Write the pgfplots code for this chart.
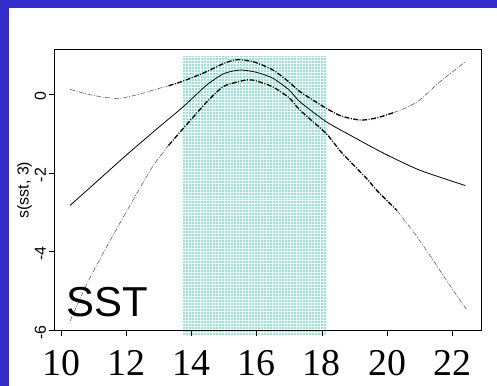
\documentclass[border=0pt]{standalone}
\usepackage{fontspec}
\setmainfont{Liberation Sans}
\newfontfamily\tnr{Liberation Serif}
\newfontfamily\arial{Liberation Sans}
\usepackage{pgfplots}
\pgfplotsset{compat=1.18}
\usetikzlibrary{patterns}
\definecolor{bgblue}{RGB}{51,45,201}
\definecolor{aqua}{RGB}{140,232,208}
\begin{document}
\begin{tikzpicture}
\fill[bgblue] (0,0) rectangle (497bp,386bp);
\fill[white] (9bp,0) rectangle (497bp,378bp);
\begin{axis}[
  at={(54.5bp,55.3bp)}, anchor=south west,
  scale only axis, width=427.2bp, height=281.2bp,
  xmin=9.8, xmax=22.9, ymin=-6, ymax=1.13,
  clip=false, axis on top=true,
  axis line style={line width=0.6pt, black},
  xtick={10,12,14,16,18,20,22},
  xticklabels={10,12,14,16,18,20,22},
  ytick={-6,-4,-2,0},
  yticklabels={-6,-4,-2,0},
  xtick pos=left, ytick pos=left,
  tick align=outside,
  major tick length=5bp,
  tick style={line width=0.8pt, black},
  /pgf/number format/assume math mode=true,
  xticklabel style={font=\tnr\fontsize{38}{38}\selectfont, anchor=north, inner sep=0pt, text height=25.8bp, text depth=0pt, yshift=-14bp},
  yticklabel style={font=\arial\fontsize{16}{16}\selectfont, rotate=90, anchor=south, xshift=-2bp},
  ylabel={s(sst, 3)},
  ylabel style={font=\arial\fontsize{16}{16}\selectfont, yshift=-4bp},
]
\addplot[draw=none, fill=aqua, postaction={pattern=grid, pattern color=white}]
  coordinates {(13.71,-6.13) (18.13,-6.13) (18.13,0.97) (13.71,0.97)} -- cycle;
% center fit
\addplot[black, line width=0.8pt, smooth, tension=0.4] coordinates {
(10.28,-2.82) (11.0,-2.29) (12.0,-1.55) (13.0,-0.84) (13.75,-0.32) (14.47,0.23)
(15.0,0.52) (15.5,0.61) (16.0,0.55) (16.5,0.40) (17.0,0.10)
(17.33,-0.2) (18.13,-0.7) (18.86,-1.04) (19.89,-1.5) (21.0,-1.93) (22.4,-2.32)};
% upper band
\addplot[black!70, line width=0.5pt, smooth, tension=0.4, dash pattern=on 5pt off 1.5pt on 1pt off 1.5pt] coordinates {
(10.28,0.12) (10.8,0.0) (11.3,-0.08) (11.8,-0.11) (12.42,0.0) (12.9,0.12) (13.3,0.21)};
\addplot[black, line width=1.3pt, smooth, tension=0.4, dash pattern=on 5pt off 1.5pt on 1pt off 1.5pt] coordinates {
(13.3,0.21) (13.75,0.33) (14.47,0.57) (15.0,0.78) (15.39,0.87) (15.9,0.82)
(16.5,0.61) (17.0,0.3) (17.33,0.06) (18.13,-0.36) (18.6,-0.56) (19.2,-0.66)
(19.7,-0.6) (20.2,-0.47)};
\addplot[black!70, line width=0.5pt, smooth, tension=0.4, dash pattern=on 5pt off 1.5pt on 1pt off 1.5pt] coordinates {
(20.2,-0.47) (20.6,-0.34) (21.0,-0.15) (21.6,0.3) (22.0,0.56) (22.4,0.82)};
% lower band
\addplot[black!70, line width=0.5pt, smooth, tension=0.4, dash pattern=on 5pt off 1.5pt on 1pt off 1.5pt] coordinates {
(10.28,-5.75) (10.8,-4.8) (11.5,-3.72) (12.2,-2.7) (12.8,-1.85) (13.3,-1.3)};
\addplot[black, line width=1.3pt, smooth, tension=0.4, dash pattern=on 5pt off 1.5pt on 1pt off 1.5pt] coordinates {
(13.3,-1.3) (13.75,-0.87) (14.47,-0.2) (15.0,0.2) (15.7,0.36) (16.0,0.33)
(16.5,0.18) (17.0,-0.1) (17.33,-0.41) (18.13,-1.0) (18.6,-1.48) (19.38,-2.15)
(19.68,-2.44) (20.3,-2.95)};
\addplot[black!70, line width=0.5pt, smooth, tension=0.4, dash pattern=on 5pt off 1.5pt on 1pt off 1.5pt] coordinates {
(20.3,-2.95) (20.9,-3.6) (21.4,-4.2) (21.93,-4.86) (22.42,-5.45)};
\node[anchor=base west, inner sep=0pt, font=\arial\fontsize{42}{42}\selectfont] at (rel axis cs:0.027,0.052) {SST};
\draw[line width=1.3pt, black] (rel axis cs:0,1) -- (rel axis cs:0,0) -- (rel axis cs:1,0);
\end{axis}
\pgfresetboundingbox
\path[use as bounding box] (0,0) rectangle (497bp,386bp);
\end{tikzpicture}
\end{document}
